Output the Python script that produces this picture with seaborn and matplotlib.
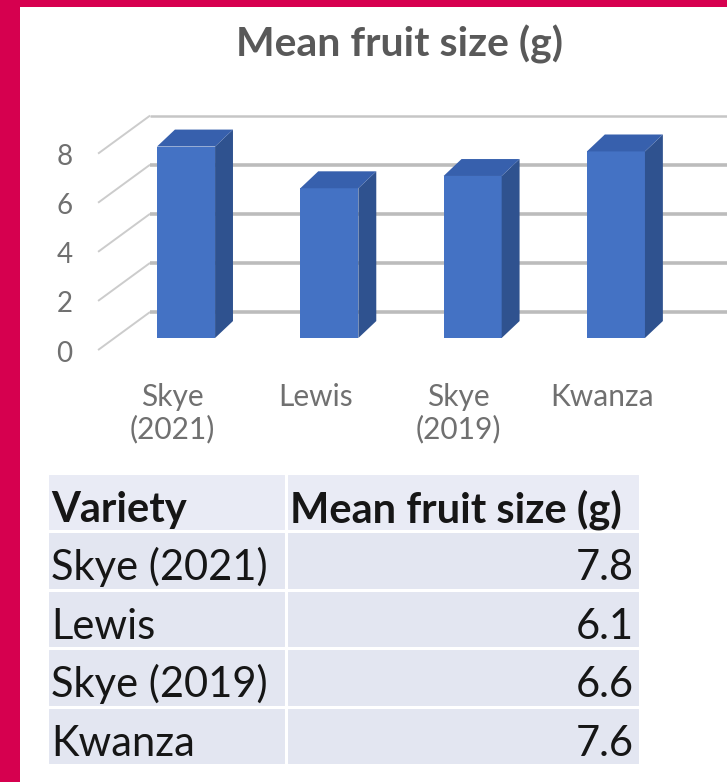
import numpy as np
import seaborn as sns
import matplotlib.pyplot as plt
from matplotlib.patches import Polygon, Rectangle

# data
varieties = ["Skye (2021)", "Lewis", "Skye (2019)", "Kwanza"]
axis_labels = ["Skye\n(2021)", "Lewis", "Skye\n(2019)", "Kwanza"]
fruit_size = [7.8, 6.1, 6.6, 7.6]
y_ticks = [0, 2, 4, 6, 8]
table_header = ["Variety", "Mean fruit size (g)"]

sns.set_theme(style="white")
plt.rcParams['font.family'] = ['Lato', 'DejaVu Sans']

W, H = 727, 782
fig = plt.figure(figsize=(W / 100, H / 100), dpi=100)
fig.patch.set_facecolor("white")

# magenta frame on the left and top
frame = "#d6004f"
fig.add_artist(Rectangle((0, 0), 20 / W, 1, transform=fig.transFigure, color=frame, lw=0))
fig.add_artist(Rectangle((0, 1 - 7 / H), 1, 7 / H, transform=fig.transFigure, color=frame, lw=0))

fig.text(400 / W, 1 - 44 / H, "Mean fruit size (g)", ha="center", va="center",
         fontsize=29.5, color="#595959", fontweight="bold")

# --- 3d-ish column chart ---
ax = fig.add_axes([78 / W, 1 - 372 / H, (W - 78) / W, 272 / H])
ax.set_facecolor("white")
sns.barplot(x=varieties, y=fruit_size, color="#4472c4", width=0.405,
            saturation=1, linewidth=0, ax=ax, zorder=3)

bdx, bdy = 0.125, 0.69   # bar depth
for p in list(ax.patches):
    x0 = p.get_x()
    x1 = x0 + p.get_width()
    h = p.get_height()
    ax.add_patch(Polygon([(x1, 0), (x1 + bdx, bdy), (x1 + bdx, h + bdy), (x1, h)],
                         closed=True, facecolor="#2f528f", lw=0, zorder=3))
    ax.add_patch(Polygon([(x0, h), (x0 + bdx, h + bdy), (x1 + bdx, h + bdy), (x1, h)],
                         closed=True, facecolor="#3760ad", lw=0, zorder=3))

# floor / back wall gridlines
floor_front = -0.49
wall_dx, wall_dy = 0.363, 1.55
x_front = -0.614
for g in y_ticks:
    top = g == y_ticks[-1]
    ax.plot([x_front, x_front + wall_dx], [g + floor_front, g + floor_front + wall_dy],
            color="#cccccc", lw=1.4, zorder=1, solid_capstyle="butt")
    ax.plot([x_front + wall_dx, 4.2], [g + floor_front + wall_dy] * 2,
            color="#c6c6c6" if top else "#bcbcbc", lw=1.8 if top else 2.6,
            zorder=1, solid_capstyle="butt")

ax.set_xlim(-0.754, 3.775)
ax.set_ylim(-1.385, 9.695)
ax.set_xticks(np.arange(len(varieties)) - 0.098)
ax.set_xticklabels(axis_labels, fontsize=21.5, color="#707070", linespacing=1.15)
ax.set_yticks(np.array(y_ticks) - 0.53)
ax.set_yticklabels([str(t) for t in y_ticks], fontsize=20, color="#707070")
ax.tick_params(length=0, pad=4)
ax.tick_params(axis="x", pad=8)
ax.set_xlabel("")
ax.set_ylabel("")
sns.despine(ax=ax, left=True, bottom=True)

# --- data table ---
tax = fig.add_axes([47 / W, 1 - 765 / H, 593 / W, 292 / H])
tax.set_xlim(0, 593)
tax.set_ylim(5, 0)
tax.axis("off")
split = 239
rows = [table_header] + [[v, f"{s:.1f}"] for v, s in zip(varieties, fruit_size)]
for r, (name, val) in enumerate(rows):
    bg = "#e9ebf5" if r == 0 else "#e3e6f1"
    tax.add_patch(Rectangle((0, r), split, 1, facecolor=bg, edgecolor="white", lw=2.2))
    tax.add_patch(Rectangle((split, r), 593 - split, 1, facecolor=bg, edgecolor="white", lw=2.2))
    base = r + 1 - 0.16
    weight = "bold" if r == 0 else "normal"
    tax.text(4, base, name, ha="left", va="baseline", fontsize=30,
             fontweight=weight, color="#161616")
    if r == 0:
        tax.text(split + 4, base, val, ha="left", va="baseline", fontsize=30,
                 fontweight=weight, color="#161616")
    else:
        tax.text(587, base, val, ha="right", va="baseline", fontsize=30,
                 color="#161616")

fig.savefig("out.png", dpi=100)
